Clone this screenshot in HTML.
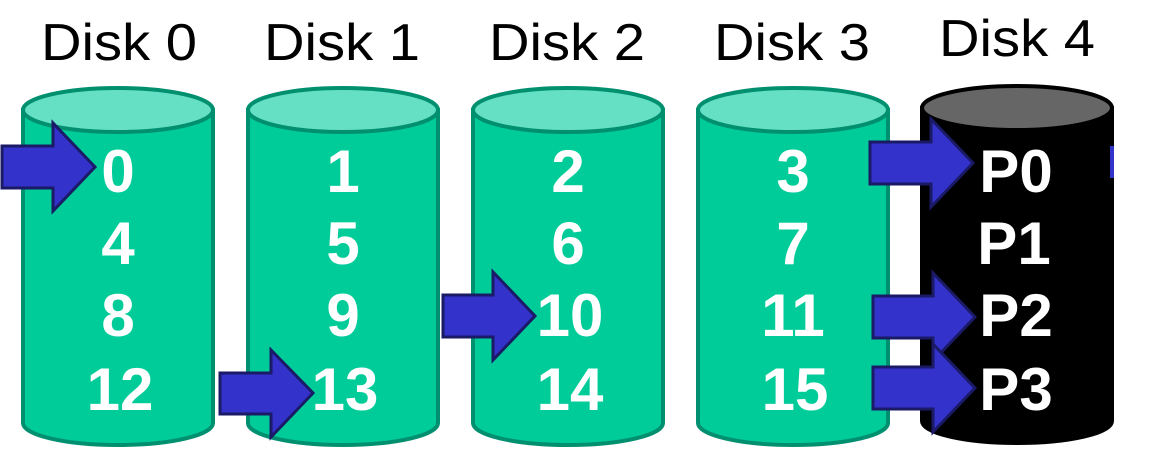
<!DOCTYPE html>
<html><head><meta charset="utf-8"><style>
html,body{margin:0;padding:0;background:#fff;width:1150px;height:453px;overflow:hidden}
svg{display:block}
.lbl{font-family:"Liberation Sans",sans-serif;font-size:52px;fill:#000;text-anchor:middle}
.n{font-family:"Liberation Sans",sans-serif;font-size:60px;font-weight:bold;fill:#fff;text-anchor:middle}
.a{fill:#3333cc;stroke:#1a1a66;stroke-width:3;stroke-linejoin:miter}
</style></head><body>
<svg width="1150" height="453" viewBox="0 0 1150 453">
<g>
<text class="lbl" x="119" y="60" textLength="156" lengthAdjust="spacingAndGlyphs">Disk 0</text>
<text class="lbl" x="342" y="60" textLength="156" lengthAdjust="spacingAndGlyphs">Disk 1</text>
<text class="lbl" x="567" y="60" textLength="156" lengthAdjust="spacingAndGlyphs">Disk 2</text>
<text class="lbl" x="792" y="60" textLength="156" lengthAdjust="spacingAndGlyphs">Disk 3</text>
<text class="lbl" x="1017" y="56" textLength="156" lengthAdjust="spacingAndGlyphs">Disk 4</text>
</g>
<g stroke="#009070" stroke-width="4">
<path d="M23 110 L23 423 A95 22 0 0 0 213 423 L213 110 Z" fill="#00cc99"/>
<ellipse cx="118" cy="110" rx="95" ry="22" fill="#66e0c4"/>
<path d="M248 110 L248 423 A95 22 0 0 0 438 423 L438 110 Z" fill="#00cc99"/>
<ellipse cx="343" cy="110" rx="95" ry="22" fill="#66e0c4"/>
<path d="M473 110 L473 423 A95 22 0 0 0 663 423 L663 110 Z" fill="#00cc99"/>
<ellipse cx="568" cy="110" rx="95" ry="22" fill="#66e0c4"/>
<path d="M698 110 L698 423 A95 22 0 0 0 888 423 L888 110 Z" fill="#00cc99"/>
<ellipse cx="793" cy="110" rx="95" ry="22" fill="#66e0c4"/>
</g>
<g stroke="#000" stroke-width="4">
<path d="M922 108 L922 421 A95 22 0 0 0 1112 421 L1112 108 Z" fill="#000"/>
<ellipse cx="1017" cy="108" rx="95" ry="22" fill="#666"/>
</g>
<rect x="1110" y="146" width="4" height="32" fill="#3333cc"/>
<g>
<text class="n" x="118" y="192">0</text><text class="n" x="118" y="264">4</text><text class="n" x="118" y="336">8</text><text class="n" x="120" y="410">12</text>
<text class="n" x="343" y="192">1</text><text class="n" x="343" y="264">5</text><text class="n" x="343" y="336">9</text><text class="n" x="345" y="410">13</text>
<text class="n" x="568" y="192">2</text><text class="n" x="568" y="264">6</text><text class="n" x="570" y="336">10</text><text class="n" x="570" y="410">14</text>
<text class="n" x="793" y="192">3</text><text class="n" x="793" y="264">7</text><text class="n" x="793" y="336">11</text><text class="n" x="795" y="410">15</text>
<text class="n" x="1016" y="192">P0</text><text class="n" x="1014" y="264">P1</text><text class="n" x="1016" y="336">P2</text><text class="n" x="1016" y="410">P3</text>
</g>
<g>
<path class="a" d="M2 146 L53 146 L53 123 L95 167 L53 211 L53 188 L2 188 Z"/>
<path class="a" d="M220 373 L271 373 L271 350 L313 393 L271 437 L271 414 L220 414 Z"/>
<path class="a" d="M443 295 L493 295 L493 272 L535 316 L493 360 L493 337 L443 337 Z"/>
<path class="a" d="M870 142 L931 142 L931 119 L973 163 L931 207 L931 184 L870 184 Z"/>
<path class="a" d="M873 296 L933 296 L933 273 L975 317 L933 361 L933 338 L873 338 Z"/>
<path class="a" d="M873 367 L933 367 L933 344 L975 388 L933 432 L933 409 L873 409 Z"/>
</g>
</svg>
</body></html>
